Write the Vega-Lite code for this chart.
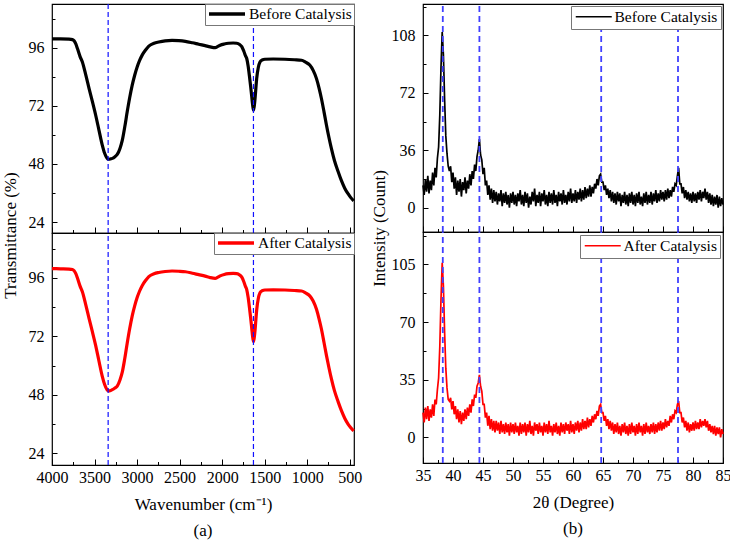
{
  "$schema": "https://vega.github.io/schema/vega-lite/v6.json",
  "padding": {"left": 0, "top": 2, "right": 0, "bottom": 0},
  "config": {
    "font": "Liberation Serif",
    "view": {"stroke": "#000", "strokeWidth": 1.2},
    "style": {"guide-label": {"font": "Liberation Serif"}, "guide-title": {"font": "Liberation Serif"}},
    "axis": {
      "labelFont": "Liberation Serif", "labelFontSize": 16, "labelColor": "#000",
      "titleFont": "Liberation Serif", "titleFontSize": 17, "titleFontWeight": "normal", "titleColor": "#000",
      "tickColor": "#000", "tickWidth": 1, "domain": false, "grid": false, "format": "d",
      "labelOverlap": false, "labelFlush": false
    },
    "legend": {
      "labelFont": "Liberation Serif", "labelFontSize": 15.5, "labelColor": "#000",
      "orient": "top-right", "strokeColor": "#777", "fillColor": "#fff",
      "symbolType": "M-1,0H5", "symbolSize": 144
    }
  },
  "datasets": {
    "ftir": [
      {"w":4000,"b":99.6,"a":99.8},{"w":3900,"b":99.6,"a":99.7},{"w":3800,"b":99.5,"a":99.6},{"w":3760,"b":99.3,"a":99.4},
      {"w":3740,"b":98.8,"a":98.9},{"w":3720,"b":97.5,"a":97.7},{"w":3700,"b":95.5,"a":95.8},{"w":3670,"b":92.3,"a":92.6},
      {"w":3643,"b":90.1,"a":90.3},{"w":3600,"b":84.3,"a":84.5},{"w":3564,"b":79.1,"a":79.3},{"w":3525,"b":73.7,"a":73.8},
      {"w":3487,"b":68.2,"a":68.3},{"w":3450,"b":62.3,"a":62.2},{"w":3409,"b":55.8,"a":55.6},{"w":3380,"b":52.3,"a":52.1},
      {"w":3355,"b":50.5,"a":50.2},{"w":3338,"b":49.9,"a":49.6},{"w":3310,"b":50.1,"a":49.8},{"w":3291,"b":50.3,"a":50.1},
      {"w":3260,"b":51.0,"a":50.8},{"w":3233,"b":51.9,"a":51.6},{"w":3200,"b":54.5,"a":54.2},{"w":3174,"b":57.7,"a":57.3},
      {"w":3145,"b":63.2,"a":62.8},{"w":3116,"b":69.5,"a":69.2},{"w":3087,"b":75.3,"a":75.1},{"w":3057,"b":80.5,"a":80.4},
      {"w":3028,"b":84.6,"a":84.5},{"w":2999,"b":88.0,"a":87.9},{"w":2970,"b":90.7,"a":90.6},{"w":2940,"b":92.9,"a":92.8},
      {"w":2900,"b":95.0,"a":94.9},{"w":2862,"b":96.6,"a":96.5},{"w":2800,"b":97.8,"a":97.7},{"w":2745,"b":98.3,"a":98.2},
      {"w":2670,"b":98.8,"a":98.6},{"w":2589,"b":99.0,"a":98.8},{"w":2510,"b":98.9,"a":98.7},{"w":2433,"b":98.6,"a":98.5},
      {"w":2350,"b":98.0,"a":97.9},{"w":2276,"b":97.4,"a":97.3},{"w":2200,"b":96.8,"a":96.7},{"w":2140,"b":96.3,"a":96.1},
      {"w":2082,"b":96.0,"a":95.8},{"w":2050,"b":96.5,"a":96.3},{"w":2023,"b":97.0,"a":96.8},{"w":1975,"b":97.5,"a":97.4},
      {"w":1925,"b":97.8,"a":97.7},{"w":1870,"b":97.9,"a":97.8},{"w":1828,"b":97.8,"a":97.7},{"w":1795,"b":97.3,"a":97.2},
      {"w":1769,"b":96.4,"a":96.3},{"w":1745,"b":94.5,"a":94.4},{"w":1725,"b":92.6,"a":92.4},{"w":1711,"b":91.5,"a":91.2},
      {"w":1695,"b":88.5,"a":88.1},{"w":1680,"b":84.5,"a":84.1},{"w":1665,"b":80.0,"a":79.6},{"w":1652,"b":75.8,"a":75.3},
      {"w":1642,"b":72.5,"a":72.0},{"w":1632,"b":70.2,"a":69.8},{"w":1622,"b":72.0,"a":71.6},{"w":1612,"b":75.5,"a":75.0},
      {"w":1603,"b":79.5,"a":79.0},{"w":1594,"b":83.2,"a":82.8},{"w":1575,"b":87.8,"a":87.5},{"w":1555,"b":90.1,"a":89.9},
      {"w":1530,"b":90.9,"a":90.7},{"w":1497,"b":91.2,"a":91.0},{"w":1400,"b":91.3,"a":91.1},{"w":1262,"b":91.2,"a":91.0},
      {"w":1150,"b":91.0,"a":90.8},{"w":1067,"b":90.8,"a":90.6},{"w":1020,"b":90.0,"a":89.8},{"w":970,"b":88.8,"a":88.6},
      {"w":930,"b":86.6,"a":86.5},{"w":891,"b":83.2,"a":83.1},{"w":860,"b":79.2,"a":79.1},{"w":833,"b":75.0,"a":75.0},
      {"w":803,"b":69.6,"a":69.6},{"w":774,"b":64.1,"a":64.2},{"w":745,"b":59.0,"a":59.2},{"w":716,"b":54.4,"a":54.6},
      {"w":680,"b":49.4,"a":49.7},{"w":637,"b":44.9,"a":45.2},{"w":600,"b":41.3,"a":41.7},{"w":559,"b":38.0,"a":38.4},
      {"w":520,"b":35.7,"a":36.0},{"w":490,"b":34.2,"a":34.6},{"w":454,"b":32.8,"a":33.2}
    ],
    "ftirPeaks": [{"p":3340},{"p":1632}],
    "xrdPeaks": [{"p":38.3},{"p":44.4},{"p":64.7},{"p":77.5}],
    "xrd": [
      {"t":35.0,"b":14,"a":15},{"t":35.2,"b":8,"a":9},{"t":35.4,"b":18,"a":18},{"t":35.6,"b":10,"a":11},{"t":35.8,"b":20,"a":19},
      {"t":36.0,"b":9,"a":10},{"t":36.2,"b":17,"a":17},{"t":36.4,"b":11,"a":12},{"t":36.6,"b":22,"a":20},{"t":36.8,"b":14,"a":13},
      {"t":37.0,"b":25,"a":23},{"t":37.2,"b":19,"a":20},{"t":37.4,"b":31,"a":29},{"t":37.6,"b":38,"a":36},{"t":37.8,"b":58,"a":55},
      {"t":38.0,"b":88,"a":84},{"t":38.2,"b":110,"a":106},{"t":38.4,"b":96,"a":92},{"t":38.6,"b":68,"a":64},{"t":38.8,"b":45,"a":42},
      {"t":39.0,"b":34,"a":30},{"t":39.2,"b":26,"a":23},{"t":39.4,"b":23,"a":22},{"t":39.6,"b":26,"a":24},{"t":39.8,"b":16,"a":17},
      {"t":40.0,"b":22,"a":22},{"t":40.2,"b":12,"a":14},{"t":40.4,"b":19,"a":19},{"t":40.6,"b":8,"a":11},{"t":40.8,"b":17,"a":17},
      {"t":41.0,"b":10,"a":9},{"t":41.2,"b":18,"a":16},{"t":41.4,"b":7,"a":8},{"t":41.6,"b":16,"a":15},{"t":41.8,"b":11,"a":10},
      {"t":42.0,"b":19,"a":17},{"t":42.2,"b":9,"a":11},{"t":42.4,"b":17,"a":18},{"t":42.6,"b":12,"a":13},{"t":42.8,"b":21,"a":20},
      {"t":43.0,"b":14,"a":15},{"t":43.2,"b":23,"a":23},{"t":43.4,"b":18,"a":19},{"t":43.6,"b":27,"a":26},{"t":43.8,"b":23,"a":24},
      {"t":44.0,"b":32,"a":31},{"t":44.2,"b":36,"a":33},{"t":44.4,"b":43,"a":38},{"t":44.6,"b":33,"a":31},{"t":44.8,"b":30,"a":28},
      {"t":45.0,"b":21,"a":20},{"t":45.2,"b":25,"a":20},{"t":45.4,"b":14,"a":12},{"t":45.6,"b":17,"a":15},{"t":45.8,"b":8,"a":7},
      {"t":46.0,"b":14,"a":13},{"t":46.2,"b":5,"a":5},{"t":46.4,"b":12,"a":11},{"t":46.6,"b":3,"a":4},{"t":46.8,"b":11,"a":10},
      {"t":47.0,"b":4,"a":3},{"t":47.2,"b":10,"a":10},{"t":47.4,"b":2,"a":4},{"t":47.6,"b":9,"a":9},{"t":47.8,"b":4,"a":2},
      {"t":48.0,"b":11,"a":10},{"t":48.2,"b":1,"a":3},{"t":48.4,"b":9,"a":8},{"t":48.6,"b":3,"a":2},{"t":48.8,"b":10,"a":9},
      {"t":49.0,"b":2,"a":3},{"t":49.2,"b":8,"a":8},{"t":49.4,"b":0,"a":1},{"t":49.6,"b":9,"a":9},{"t":49.8,"b":3,"a":3},
      {"t":50.0,"b":10,"a":8},{"t":50.2,"b":2,"a":2},{"t":50.4,"b":8,"a":9},{"t":50.6,"b":1,"a":3},{"t":50.8,"b":9,"a":7},
      {"t":51.0,"b":4,"a":1},{"t":51.2,"b":11,"a":9},{"t":51.4,"b":2,"a":2},{"t":51.6,"b":8,"a":8},{"t":51.8,"b":1,"a":3},
      {"t":52.0,"b":10,"a":9},{"t":52.2,"b":3,"a":1},{"t":52.4,"b":9,"a":8},{"t":52.6,"b":0,"a":3},{"t":52.8,"b":7,"a":10},
      {"t":53.0,"b":2,"a":2},{"t":53.2,"b":10,"a":7},{"t":53.4,"b":4,"a":1},{"t":53.6,"b":12,"a":9},{"t":53.8,"b":1,"a":4},
      {"t":54.0,"b":8,"a":8},{"t":54.2,"b":3,"a":2},{"t":54.4,"b":10,"a":9},{"t":54.6,"b":1,"a":3},{"t":54.8,"b":9,"a":7},
      {"t":55.0,"b":4,"a":1},{"t":55.2,"b":11,"a":9},{"t":55.4,"b":2,"a":3},{"t":55.6,"b":8,"a":8},{"t":55.8,"b":1,"a":2},
      {"t":56.0,"b":10,"a":10},{"t":56.2,"b":3,"a":3},{"t":56.4,"b":9,"a":7},{"t":56.6,"b":2,"a":1},{"t":56.8,"b":11,"a":8},
      {"t":57.0,"b":3,"a":3},{"t":57.2,"b":8,"a":9},{"t":57.4,"b":1,"a":2},{"t":57.6,"b":10,"a":7},{"t":57.8,"b":4,"a":1},
      {"t":58.0,"b":9,"a":9},{"t":58.2,"b":2,"a":3},{"t":58.4,"b":11,"a":8},{"t":58.6,"b":3,"a":2},{"t":58.8,"b":8,"a":9},
      {"t":59.0,"b":2,"a":4},{"t":59.2,"b":10,"a":8},{"t":59.4,"b":4,"a":2},{"t":59.6,"b":12,"a":10},{"t":59.8,"b":3,"a":3},
      {"t":60.0,"b":9,"a":8},{"t":60.2,"b":4,"a":2},{"t":60.4,"b":11,"a":9},{"t":60.6,"b":3,"a":4},{"t":60.8,"b":10,"a":10},
      {"t":61.0,"b":5,"a":3},{"t":61.2,"b":12,"a":9},{"t":61.4,"b":4,"a":4},{"t":61.6,"b":11,"a":11},{"t":61.8,"b":5,"a":5},
      {"t":62.0,"b":13,"a":10},{"t":62.2,"b":6,"a":5},{"t":62.4,"b":12,"a":12},{"t":62.6,"b":7,"a":6},{"t":62.8,"b":14,"a":11},
      {"t":63.0,"b":7,"a":7},{"t":63.2,"b":13,"a":13},{"t":63.4,"b":9,"a":9},{"t":63.6,"b":15,"a":14},{"t":63.8,"b":12,"a":11},
      {"t":64.0,"b":18,"a":16},{"t":64.2,"b":14,"a":13},{"t":64.4,"b":20,"a":19},{"t":64.6,"b":21,"a":20},{"t":64.8,"b":16,"a":15},
      {"t":65.0,"b":16,"a":15},{"t":65.2,"b":11,"a":10},{"t":65.4,"b":14,"a":13},{"t":65.6,"b":8,"a":7},{"t":65.8,"b":12,"a":11},
      {"t":66.0,"b":6,"a":5},{"t":66.2,"b":11,"a":10},{"t":66.4,"b":4,"a":4},{"t":66.6,"b":10,"a":9},{"t":66.8,"b":3,"a":2},
      {"t":67.0,"b":9,"a":8},{"t":67.2,"b":2,"a":3},{"t":67.4,"b":10,"a":9},{"t":67.6,"b":4,"a":2},{"t":67.8,"b":9,"a":7},
      {"t":68.0,"b":1,"a":1},{"t":68.2,"b":8,"a":8},{"t":68.4,"b":3,"a":3},{"t":68.6,"b":10,"a":9},{"t":68.8,"b":2,"a":2},
      {"t":69.0,"b":8,"a":7},{"t":69.2,"b":1,"a":1},{"t":69.4,"b":9,"a":8},{"t":69.6,"b":3,"a":2},{"t":69.8,"b":10,"a":9},
      {"t":70.0,"b":2,"a":3},{"t":70.2,"b":8,"a":7},{"t":70.4,"b":1,"a":1},{"t":70.6,"b":9,"a":8},{"t":70.8,"b":3,"a":2},
      {"t":71.0,"b":10,"a":9},{"t":71.2,"b":2,"a":3},{"t":71.4,"b":7,"a":7},{"t":71.6,"b":1,"a":1},{"t":71.8,"b":9,"a":8},
      {"t":72.0,"b":3,"a":2},{"t":72.2,"b":10,"a":9},{"t":72.4,"b":2,"a":3},{"t":72.6,"b":8,"a":7},{"t":72.8,"b":3,"a":2},
      {"t":73.0,"b":10,"a":8},{"t":73.2,"b":2,"a":3},{"t":73.4,"b":9,"a":9},{"t":73.6,"b":4,"a":2},{"t":73.8,"b":11,"a":8},
      {"t":74.0,"b":3,"a":3},{"t":74.2,"b":9,"a":9},{"t":74.4,"b":4,"a":4},{"t":74.6,"b":11,"a":10},{"t":74.8,"b":5,"a":4},
      {"t":75.0,"b":10,"a":9},{"t":75.2,"b":4,"a":5},{"t":75.4,"b":11,"a":11},{"t":75.6,"b":5,"a":6},{"t":75.8,"b":12,"a":10},
      {"t":76.0,"b":6,"a":7},{"t":76.2,"b":11,"a":13},{"t":76.4,"b":7,"a":9},{"t":76.6,"b":13,"a":14},{"t":76.8,"b":10,"a":11},
      {"t":77.0,"b":15,"a":16},{"t":77.2,"b":14,"a":15},{"t":77.4,"b":20,"a":20},{"t":77.6,"b":25,"a":22},{"t":77.8,"b":15,"a":15},
      {"t":78.0,"b":15,"a":15},{"t":78.2,"b":9,"a":9},{"t":78.4,"b":13,"a":12},{"t":78.6,"b":6,"a":6},{"t":78.8,"b":11,"a":10},
      {"t":79.0,"b":5,"a":4},{"t":79.2,"b":10,"a":9},{"t":79.4,"b":4,"a":3},{"t":79.6,"b":9,"a":8},{"t":79.8,"b":3,"a":4},
      {"t":80.0,"b":10,"a":9},{"t":80.2,"b":4,"a":4},{"t":80.4,"b":9,"a":10},{"t":80.6,"b":3,"a":5},{"t":80.8,"b":10,"a":9},
      {"t":81.0,"b":5,"a":5},{"t":81.2,"b":11,"a":11},{"t":81.4,"b":4,"a":6},{"t":81.6,"b":10,"a":10},{"t":81.8,"b":6,"a":7},
      {"t":82.0,"b":12,"a":11},{"t":82.2,"b":5,"a":6},{"t":82.4,"b":10,"a":10},{"t":82.6,"b":3,"a":4},{"t":82.8,"b":9,"a":8},
      {"t":83.0,"b":2,"a":3},{"t":83.2,"b":8,"a":7},{"t":83.4,"b":1,"a":2},{"t":83.6,"b":7,"a":7},{"t":83.8,"b":2,"a":1},
      {"t":84.0,"b":8,"a":6},{"t":84.2,"b":0,"a":2},{"t":84.4,"b":7,"a":6},{"t":84.6,"b":1,"a":0},{"t":84.8,"b":6,"a":5},
      {"t":85.0,"b":2,"a":2}
    ]
  },
  "spacing": 6,
  "resolve": {"scale": {"x": "independent", "y": "independent", "color": "independent"}},
  "hconcat": [
    {
      "spacing": 0,
      "bounds": "flush",
      "resolve": {"scale": {"x": "independent", "y": "independent", "color": "independent"}},
      "vconcat": [
        {
          "width": 302, "height": 229,
          "resolve": {"axis": {"x": "independent", "y": "independent"}},
          "layer": [
            {
              "data": {"name": "ftir"},
              "mark": {"type": "line", "strokeWidth": 3.2, "interpolate": "monotone"},
              "encoding": {
                "x": {"field": "w", "type": "quantitative",
                  "scale": {"domain": [450, 4000], "reverse": true, "nice": false, "zero": false},
                  "axis": {"orient": "bottom", "values": [500,1000,1500,2000,2500,3000,3500,4000], "labels": false, "title": null, "tickSize": -6}},
                "y": {"field": "b", "type": "quantitative",
                  "scale": {"domain": [19.5, 114], "nice": false, "zero": false},
                  "axis": {"orient": "left", "values": [24,48,72,96], "tickSize": -5, "labelPadding": 13,
                    "title": "Transmittance (%)", "titleX": -33, "titleY": 231}},
                "color": {"datum": "Before Catalysis", "type": "nominal",
                  "scale": {"range": ["#000000"]},
                  "legend": {"title": null, "symbolStrokeWidth": 3.5, "padding": 2, "labelOffset": 26, "offset": 0}}
              }
            },
            {
              "data": {"name": "ftirPeaks"},
              "mark": {"type": "rule", "color": "#1010ff", "strokeWidth": 1.2, "strokeDash": [5, 3]},
              "encoding": {
                "x": {"field": "p", "type": "quantitative",
                  "axis": {"orient": "bottom", "values": [750,1250,1750,2250,2750,3250,3750], "labels": false, "title": null, "tickSize": -3.5}},
                "y": {"datum": 19.5, "type": "quantitative",
                  "axis": {"orient": "left", "values": [36,60,84,108], "labels": false, "title": null, "tickSize": -3}},
                "y2": {"datum": 114}
              }
            }
          ]
        },
        {
          "width": 302, "height": 232,
          "title": {"text": "(a)", "orient": "bottom", "frame": "group", "anchor": "middle", "fontSize": 17, "font": "Liberation Serif", "fontWeight": "normal", "offset": 11, "color": "#000"},
          "resolve": {"axis": {"x": "independent", "y": "independent"}},
          "layer": [
            {
              "data": {"name": "ftir"},
              "mark": {"type": "line", "strokeWidth": 3.2, "interpolate": "monotone"},
              "encoding": {
                "x": {"field": "w", "type": "quantitative",
                  "scale": {"domain": [450, 4000], "reverse": true, "nice": false, "zero": false},
                  "axis": {"orient": "bottom", "values": [500,1000,1500,2000,2500,3000,3500,4000], "tickSize": -6, "labelPadding": 10,
                    "title": "Wavenumber (cm⁻¹)", "titlePadding": 11}},
                "y": {"field": "a", "type": "quantitative",
                  "scale": {"domain": [19.2, 114.4], "nice": false, "zero": false},
                  "axis": {"orient": "left", "values": [24,48,72,96], "tickSize": -5, "labelPadding": 13, "title": null}},
                "color": {"datum": "After Catalysis", "type": "nominal",
                  "scale": {"range": ["#ff0000"]},
                  "legend": {"title": null, "symbolStrokeWidth": 3.5, "padding": 2, "labelOffset": 26, "offset": 0}}
              }
            },
            {
              "data": {"name": "ftirPeaks"},
              "mark": {"type": "rule", "color": "#1010ff", "strokeWidth": 1.2, "strokeDash": [5, 3]},
              "encoding": {
                "x": {"field": "p", "type": "quantitative",
                  "axis": {"orient": "bottom", "values": [750,1250,1750,2250,2750,3250,3750], "labels": false, "title": null, "tickSize": -3.5}},
                "y": {"datum": 19.2, "type": "quantitative",
                  "axis": {"orient": "left", "values": [36,60,84,108], "labels": false, "title": null, "tickSize": -3}},
                "y2": {"datum": 114.4}
              }
            }
          ]
        }
      ]
    },
    {
      "spacing": 0,
      "bounds": "flush",
      "resolve": {"scale": {"x": "independent", "y": "independent", "color": "independent"}},
      "vconcat": [
        {
          "width": 300, "height": 228,
          "resolve": {"axis": {"x": "independent", "y": "independent"}},
          "layer": [
            {
              "data": {"name": "xrd"},
              "mark": {"type": "line", "strokeWidth": 1.7},
              "encoding": {
                "x": {"field": "t", "type": "quantitative",
                  "scale": {"domain": [35, 85], "nice": false, "zero": false},
                  "axis": {"orient": "bottom", "values": [35,40,45,50,55,60,65,70,75,80,85], "labels": false, "title": null, "tickSize": -6}},
                "y": {"field": "b", "type": "quantitative",
                  "scale": {"domain": [-15.2, 127.6], "nice": false, "zero": false},
                  "axis": {"orient": "left", "values": [0,36,72,108], "tickSize": -5, "labelPadding": 13,
                    "title": "Intensity (Count)", "titleX": -35, "titleY": 224}},
                "color": {"datum": "Before Catalysis", "type": "nominal",
                  "scale": {"range": ["#000000"]},
                  "legend": {"title": null, "symbolStrokeWidth": 1.6, "padding": 3, "labelOffset": 25, "offset": 2}}
              }
            },
            {
              "data": {"name": "xrdPeaks"},
              "mark": {"type": "rule", "color": "#4040ff", "strokeWidth": 1.8, "strokeDash": [6, 4]},
              "encoding": {
                "x": {"field": "p", "type": "quantitative",
                  "axis": {"orient": "bottom", "values": [37.5,42.5,47.5,52.5,57.5,62.5,67.5,72.5,77.5,82.5], "labels": false, "title": null, "tickSize": -3.5}},
                "y": {"datum": -15.2, "type": "quantitative",
                  "axis": {"orient": "left", "values": [18,54,90,126], "labels": false, "title": null, "tickSize": -3}},
                "y2": {"datum": 127.6}
              }
            }
          ]
        },
        {
          "width": 300, "height": 231,
          "title": {"text": "(b)", "orient": "bottom", "frame": "group", "anchor": "middle", "fontSize": 17, "font": "Liberation Serif", "fontWeight": "normal", "offset": 11, "color": "#000"},
          "resolve": {"axis": {"x": "independent", "y": "independent"}},
          "layer": [
            {
              "data": {"name": "xrd"},
              "mark": {"type": "line", "strokeWidth": 1.7},
              "encoding": {
                "x": {"field": "t", "type": "quantitative",
                  "scale": {"domain": [35, 85], "nice": false, "zero": false},
                  "axis": {"orient": "bottom", "values": [35,40,45,50,55,60,65,70,75,80,85], "tickSize": -6, "labelPadding": 10,
                    "title": "2θ (Degree)", "titlePadding": 11}},
                "y": {"field": "a", "type": "quantitative",
                  "scale": {"domain": [-15.6, 124.7], "nice": false, "zero": false},
                  "axis": {"orient": "left", "values": [0,35,70,105], "tickSize": -5, "labelPadding": 13, "title": null}},
                "color": {"datum": "After Catalysis", "type": "nominal",
                  "scale": {"range": ["#ff0000"]},
                  "legend": {"title": null, "symbolStrokeWidth": 1.6, "padding": 3, "labelOffset": 25, "offset": 3}}
              }
            },
            {
              "data": {"name": "xrdPeaks"},
              "mark": {"type": "rule", "color": "#4040ff", "strokeWidth": 1.8, "strokeDash": [6, 4]},
              "encoding": {
                "x": {"field": "p", "type": "quantitative",
                  "axis": {"orient": "bottom", "values": [37.5,42.5,47.5,52.5,57.5,62.5,67.5,72.5,77.5,82.5], "labels": false, "title": null, "tickSize": -3.5}},
                "y": {"datum": -15.6, "type": "quantitative",
                  "axis": {"orient": "left", "values": [17.5,52.5,87.5,122.5], "labels": false, "title": null, "tickSize": -3}},
                "y2": {"datum": 124.7}
              }
            }
          ]
        }
      ]
    }
  ]
}
